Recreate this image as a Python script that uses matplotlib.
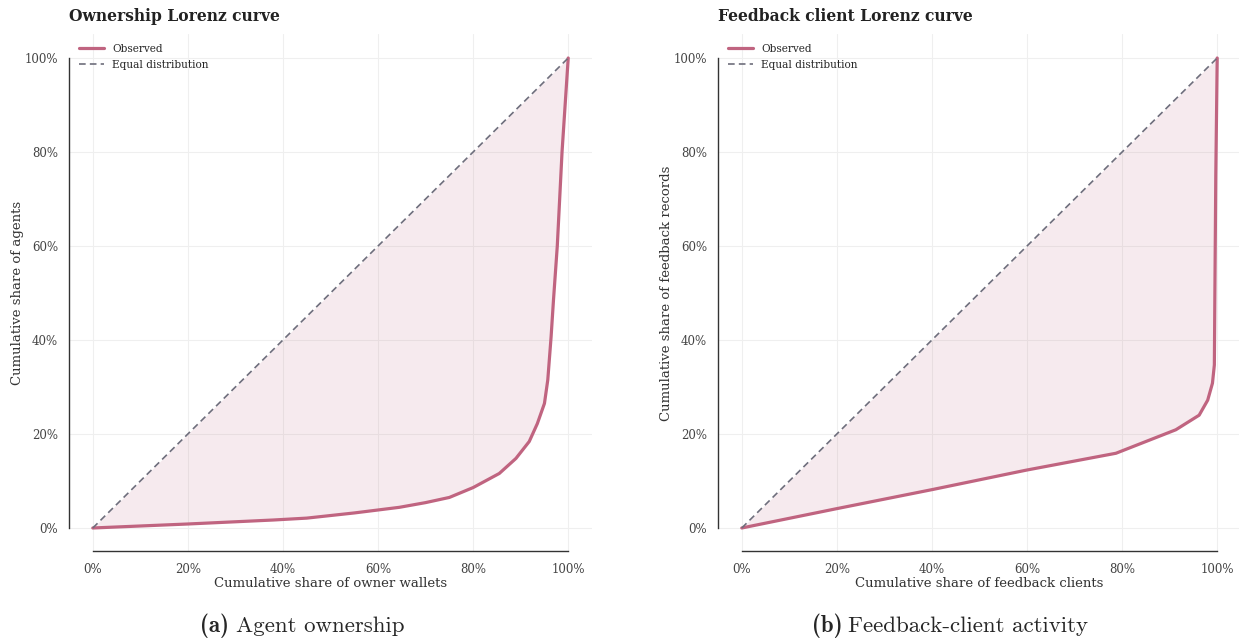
import matplotlib.pyplot as plt
import numpy as np
import seaborn as sns

# Lorenz curve points
own_x = [0.0, 0.20, 0.38, 0.45, 0.55, 0.645, 0.70, 0.75, 0.80, 0.855, 0.89, 0.918, 0.935, 0.95, 0.957, 0.964, 0.969, 0.977, 0.987, 1.0]
own_y = [0.0, 0.0085, 0.017, 0.021, 0.032, 0.044, 0.054, 0.065, 0.086, 0.116, 0.148, 0.184, 0.222, 0.265, 0.315, 0.407, 0.485, 0.60, 0.80, 1.0]

fb_x = [0.0, 0.199, 0.402, 0.598, 0.787, 0.913, 0.962, 0.980, 0.990, 0.994, 0.995, 0.997, 1.0]
fb_y = [0.0, 0.041, 0.082, 0.123, 0.159, 0.209, 0.240, 0.272, 0.308, 0.347, 0.485, 0.75, 1.0]

titles = ["Ownership Lorenz curve", "Feedback client Lorenz curve"]
xlabels = ["Cumulative share of owner wallets", "Cumulative share of feedback clients"]
ylabels = ["Cumulative share of agents", "Cumulative share of feedback records"]
caption_tags = ["(a)", "(b)"]
caption_texts = ["Agent ownership", "Feedback-client activity"]
ticks = [0, 0.2, 0.4, 0.6, 0.8, 1.0]
tick_labels = ["0%", "20%", "40%", "60%", "80%", "100%"]

sns.set_style("white")
plt.rcParams['font.family'] = ['DejaVu Serif']

line_col = '#c06480'
eq_col = '#6e6e7c'

fig = plt.figure(figsize=(12.39, 6.4), dpi=100)
ax1 = fig.add_axes([0.0557, 0.1383, 0.4221, 0.8078])
ax2 = fig.add_axes([0.5795, 0.1383, 0.4221, 0.8078])

data = [(own_x, own_y), (fb_x, fb_y)]
for i, ax in enumerate([ax1, ax2]):
    x, y = data[i]
    ax.grid(True, color='#efefef', lw=0.8)
    ax.fill_between(x, y, x, color=line_col, alpha=0.13, lw=0)
    ax.plot(x, y, color=line_col, lw=2.3, label="Observed")
    ax.plot([0, 1], [0, 1], color=eq_col, lw=1.2, ls=(0, (4, 2.5)), label="Equal distribution")
    ax.set_xlim(-0.05, 1.05)
    ax.set_ylim(-0.05, 1.05)
    ax.set_xticks(ticks)
    ax.set_xticklabels(tick_labels)
    ax.set_yticks(ticks)
    ax.set_yticklabels(tick_labels)
    ax.tick_params(labelsize=8.5, colors='#444444', length=0, pad=8)
    ax.set_xlabel(xlabels[i], fontsize=9.5, color='#333333', labelpad=1)
    ax.set_ylabel(ylabels[i], fontsize=9.5, color='#333333', labelpad=0.5)
    ax.set_title(titles[i], loc='left', fontsize=11.2, fontweight='bold', color='#222222', pad=10)
    ax.legend(loc='upper left', frameon=False, fontsize=7.6, handlelength=2.4,
              borderaxespad=0.5, labelspacing=0.55)
    sns.despine(ax=ax, trim=True)
    for s in ['left', 'bottom']:
        ax.spines[s].set_color('#333333')
        ax.spines[s].set_linewidth(1.0)

    # subfigure caption
    cx = [200, 812][i] / 1239
    fig.text(cx, 0.0125, caption_tags[i], family='cmb10', fontsize=16.5, va='baseline')
    fig.text(cx + 36 / 1239, 0.0125, caption_texts[i], family='cmr10', fontsize=16.5, va='baseline')

fig.savefig("out.png", dpi=100)
